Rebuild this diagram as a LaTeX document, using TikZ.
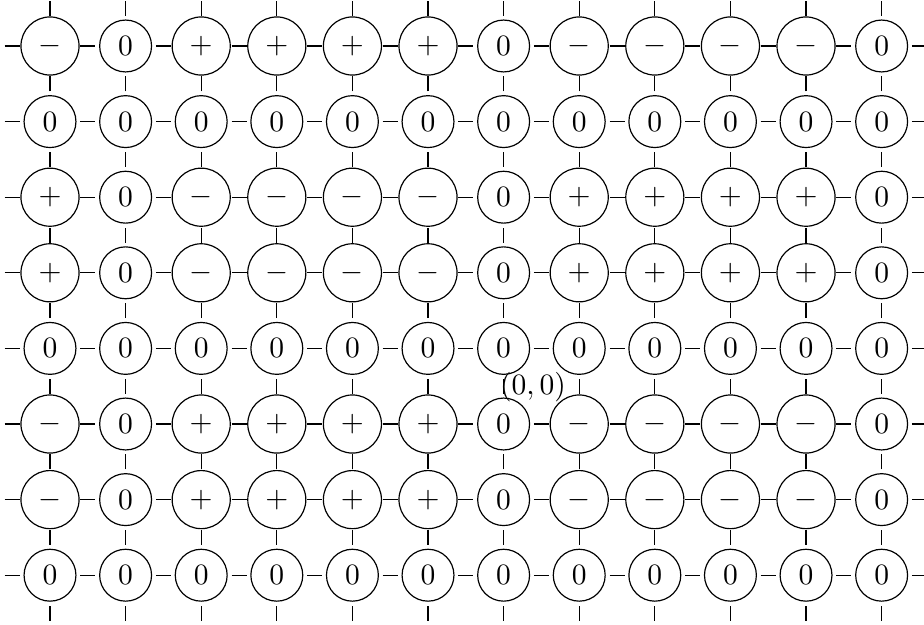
\documentclass[tikz,border=0pt]{standalone}
\usetikzlibrary{calc}
\begin{document}
\begin{tikzpicture}[x=25.6pt,y=-25.6pt,
  cell/.style={circle,draw,line width=0.4pt},
  tickline/.style={line width=0.4pt}]
\useasboundingbox (-0.6614,-0.6086) rectangle ++(12.222,8.267);
% grid of signed cells
\foreach \r [count=\j] in {
  {-,0,+,+,+,+,0,-,-,-,-,0},
  {0,0,0,0,0,0,0,0,0,0,0,0},
  {+,0,-,-,-,-,0,+,+,+,+,0},
  {+,0,-,-,-,-,0,+,+,+,+,0},
  {0,0,0,0,0,0,0,0,0,0,0,0},
  {-,0,+,+,+,+,0,-,-,-,-,0},
  {-,0,+,+,+,+,0,-,-,-,-,0},
  {0,0,0,0,0,0,0,0,0,0,0,0}}{
  \foreach \s [count=\i] in \r {
    \node[cell] (n-\i-\j) at (\i-1,\j-1) {$\s$};
  }
}
% boundary coordinates
\foreach \j in {1,...,8}{
  \coordinate (n-0-\j) at (-1,\j-1);
  \coordinate (n-13-\j) at (12,\j-1);
}
\foreach \i in {1,...,12}{
  \coordinate (n-\i-0) at (\i-1,-1);
  \coordinate (n-\i-9) at (\i-1,8);
}
% horizontal ticks
\foreach \j in {1,...,8}{
  \foreach \i [evaluate=\i as \ii using int(\i+1)] in {0,...,12}{
    \draw[tickline] ($(n-\i-\j)!0.5!(n-\ii-\j)$) ++(-2.54pt,0) -- ++(5.08pt,0);
  }
}
% vertical ticks
\foreach \i in {1,...,12}{
  \foreach \j [evaluate=\j as \jj using int(\j+1)] in {0,...,8}{
    \draw[tickline] ($(n-\i-\j)!0.5!(n-\i-\jj)$) ++(0,-2.54pt) -- ++(0,5.08pt);
  }
}
\node (origin) at (6.389,4.511) {$(0,0)$};
\end{tikzpicture}
\end{document}
